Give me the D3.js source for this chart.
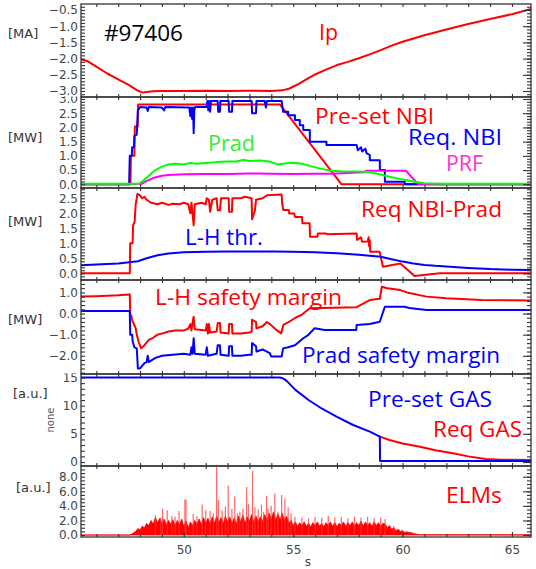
<!DOCTYPE html>
<html><head><meta charset="utf-8">
<script src="https://cdn.jsdelivr.net/npm/d3@7"></script>
<style>body{margin:0;background:#fff}</style>
</head><body>
<svg id="c" width="536" height="569"></svg>
<script>
// ---------------- DATA ----------------
const timeRange = [45.3, 65.87];
const xTickMajor = [50, 55, 60, 65];

const ipData = [[45.3,-2.02],[45.6,-2.08],[46.0,-2.25],[46.5,-2.46],[47.0,-2.64],[47.5,-2.82],[47.85,-2.97],[48.1,-3.05],[48.3,-3.03],[48.6,-3.01],[49,-3.0],[50,-3.0],[51,-2.99],[52,-3.0],[53,-2.99],[54,-3.0],[54.5,-2.98],[54.8,-2.93],[55.2,-2.8],[55.6,-2.64],[56.0,-2.49],[56.5,-2.34],[57.0,-2.2],[57.5,-2.1],[58.0,-1.99],[58.5,-1.87],[59.0,-1.74],[59.5,-1.6],[60.0,-1.48],[61.0,-1.28],[62.0,-1.1],[63.0,-0.93],[64.0,-0.78],[65.0,-0.63],[65.87,-0.47]];

const presetNbi = [[45.3,0],[47.56,0],[47.58,1.0],[47.74,1.0],[47.76,2.03],[47.89,2.03],[47.91,2.81],[54.39,2.81],[57.21,0],[65.87,0]];
const reqNbi = [[45.3,0],[47.5,0],[47.53,1.0],[47.62,1.0],[47.64,1.3],[47.72,1.3],[47.74,1.7],[47.85,1.75],[47.9,2.6],[48.0,2.72],[48.3,2.7],[48.35,2.58],[48.4,2.72],[49.0,2.7],[49.1,2.6],[49.15,2.72],[50.25,2.7],[50.3,2.4],[50.33,2.7],[50.38,2.3],[50.42,2.7],[50.45,1.8],[50.48,2.6],[50.52,2.72],[51.05,2.72],[51.08,2.93],[51.12,2.6],[51.16,2.93],[51.2,2.55],[51.24,2.93],[51.55,2.93],[51.57,2.55],[51.65,2.55],[51.67,2.93],[52.05,2.93],[52.07,2.55],[52.2,2.55],[52.22,2.93],[53.1,2.93],[53.12,2.5],[53.3,2.5],[53.32,2.93],[53.7,2.93],[53.75,2.7],[53.8,2.93],[54.47,2.93],[54.54,2.55],[54.77,2.55],[54.77,2.43],[55.08,2.43],[55.08,2.26],[55.3,2.26],[55.3,2.08],[55.46,2.08],[55.46,1.91],[55.76,1.91],[55.76,1.5],[56.52,1.5],[56.52,1.38],[57.9,1.38],[57.95,1.2],[58.1,1.3],[58.15,1.15],[58.3,1.25],[58.35,1.1],[58.5,1.03],[58.5,0.85],[58.96,0.85],[58.96,0.5],[59.19,0.5],[59.19,0.09],[60.1,0.09],[60.1,0.0],[65.87,0]];
const pradData = [[45.3,0.02],[47.95,0.02],[48.1,0.1],[48.4,0.3],[48.7,0.5],[49.0,0.62],[49.3,0.7],[49.6,0.72],[50.0,0.7],[50.3,0.75],[50.6,0.72],[51.0,0.75],[51.5,0.78],[52.0,0.8],[52.4,0.8],[52.7,0.86],[53.0,0.82],[53.5,0.84],[53.9,0.8],[54.3,0.7],[54.7,0.74],[55.0,0.76],[55.4,0.72],[55.8,0.64],[56.2,0.56],[56.7,0.48],[57.2,0.46],[58.0,0.45],[58.5,0.43],[58.9,0.36],[59.3,0.28],[59.8,0.2],[60.2,0.14],[60.6,0.08],[61.0,0.04],[62,0.02],[65.87,0.02]];
const prfData = [[45.3,0.01],[48.05,0.01],[48.3,0.12],[48.6,0.22],[49.0,0.3],[49.3,0.33],[50.0,0.35],[51,0.36],[52,0.36],[53,0.38],[54,0.37],[55,0.36],[56,0.37],[56.7,0.37],[57.5,0.4],[58.2,0.42],[58.35,0.48],[60.15,0.48],[60.7,0.01],[65.87,0.01]];

const reqNbiPrad = [[45.3,0],[47.53,0],[47.55,1.0],[47.66,1.0],[47.68,1.6],[47.75,1.7],[47.8,2.3],[47.88,2.65],[48.0,2.6],[48.1,2.5],[48.2,2.55],[48.3,2.45],[48.5,2.35],[48.8,2.3],[49.0,2.35],[49.3,2.28],[49.5,2.32],[49.8,2.3],[50.0,2.35],[50.2,2.3],[50.3,2.0],[50.35,2.35],[50.45,1.6],[50.5,2.3],[50.8,2.35],[51.0,2.3],[51.05,2.5],[51.15,2.45],[51.2,2.05],[51.3,2.45],[51.5,2.5],[51.55,2.1],[51.65,2.1],[51.7,2.5],[52.05,2.5],[52.07,2.05],[52.2,2.05],[52.22,2.5],[52.6,2.5],[52.8,2.55],[53.1,2.5],[53.12,1.8],[53.25,2.1],[53.3,2.45],[53.6,2.5],[53.8,2.6],[54.47,2.63],[54.5,2.3],[54.55,2.11],[54.8,2.11],[54.82,1.99],[55.05,1.99],[55.08,1.88],[55.4,1.88],[55.42,1.67],[55.75,1.67],[55.77,1.22],[56.1,1.22],[56.13,1.33],[56.5,1.33],[56.55,1.3],[57.9,1.33],[57.92,1.11],[58.1,1.2],[58.15,1.05],[58.4,1.06],[58.45,1.2],[58.47,0.9],[58.5,1.1],[58.52,0.72],[58.95,0.72],[59.1,0.22],[59.9,0.33],[60.55,-0.09],[61.7,0.0],[65.87,0.0]];
const lhThr = [[45.3,0.27],[46,0.29],[47,0.33],[47.5,0.37],[47.9,0.4],[48.3,0.5],[48.8,0.6],[49.3,0.66],[50,0.7],[51,0.72],[52,0.73],[53,0.73],[54,0.73],[55,0.72],[56,0.7],[57,0.67],[58,0.62],[59,0.55],[59.5,0.47],[60,0.39],[60.5,0.33],[61,0.28],[61.5,0.25],[62,0.23],[63,0.18],[64,0.14],[65,0.12],[65.87,0.11]];

const lhMargin = [[45.3,0.8],[46,0.82],[47,0.86],[47.5,0.9],[47.53,0.9],[47.55,-0.07],[47.6,-0.1],[47.65,-0.35],[47.72,-0.5],[47.8,-0.7],[47.85,-1.0],[47.95,-1.4],[48.05,-1.65],[48.2,-1.5],[48.4,-1.25],[48.6,-1.15],[48.8,-1.0],[49.0,-0.95],[49.3,-0.85],[49.6,-0.8],[50.0,-0.8],[50.2,-0.72],[50.3,-0.5],[50.35,-0.8],[50.42,-0.3],[50.45,-0.15],[50.5,-0.75],[51.0,-0.8],[51.05,-0.5],[51.1,-0.95],[51.15,-0.5],[51.2,-0.9],[51.5,-0.85],[51.55,-0.45],[51.65,-0.45],[51.68,-0.9],[52.05,-0.95],[52.07,-0.5],[52.2,-0.5],[52.22,-0.95],[52.6,-0.95],[53.0,-0.9],[53.1,-0.85],[53.12,-0.3],[53.3,-0.4],[53.32,-0.7],[53.6,-0.6],[53.8,-0.4],[53.93,-0.5],[54.2,-0.75],[54.45,-0.94],[54.55,-0.54],[54.8,-0.4],[55.1,-0.2],[55.4,-0.05],[55.76,0.25],[57.9,0.3],[58.5,0.64],[58.96,0.7],[59.05,1.27],[59.3,1.2],[59.9,1.11],[60.2,1.0],[61.1,0.8],[62,0.72],[63.6,0.64],[65.87,0.62]];
const pradMargin = [[45.3,0.12],[47.5,0.12],[47.53,0.1],[47.55,-1.0],[47.64,-1.0],[47.66,-1.3],[47.74,-1.6],[47.85,-1.65],[47.9,-2.6],[48.0,-2.6],[48.2,-2.35],[48.3,-2.3],[48.35,-2.0],[48.4,-2.3],[48.7,-2.1],[49.0,-2.0],[49.5,-1.95],[50.0,-1.9],[50.3,-1.95],[50.35,-1.6],[50.4,-1.9],[50.45,-1.17],[50.5,-1.9],[51.0,-1.95],[51.05,-1.6],[51.1,-2.0],[51.5,-1.9],[51.55,-1.5],[51.65,-1.5],[51.68,-1.95],[52.05,-2.0],[52.07,-1.55],[52.2,-1.55],[52.22,-2.0],[52.6,-2.0],[53.0,-1.95],[53.1,-1.95],[53.12,-1.4],[53.3,-1.55],[53.32,-1.8],[53.6,-1.7],[53.93,-1.88],[54.0,-2.04],[54.47,-2.04],[54.54,-1.65],[54.77,-1.6],[55.08,-1.5],[55.46,-1.17],[55.68,-1.02],[55.98,-0.7],[56.44,-0.78],[57.88,-0.78],[57.9,-0.54],[58.5,-0.5],[58.96,-0.39],[59.19,0.32],[60.1,0.32],[60.3,0.26],[61.1,0.17],[65.87,0.17]];

const presetGas = [[45.3,15],[54.4,15],[54.55,14.8],[54.7,14.4],[55.1,12.8],[55.7,11.0],[56.3,9.5],[56.98,8.05],[57.74,6.57],[58.5,5.38],[58.96,4.5],[58.97,0.18],[65.87,0.18]];
const reqGas = [[58.9,4.6],[59.4,3.9],[60.0,3.3],[60.8,2.7],[61.5,2.1],[62.3,1.54],[63.0,1.0],[63.8,0.55],[64.5,0.42],[65.87,0.36]];

const elmStart = 47.5, elmStep = 0.1;
const elmBase = [0,0.1,0.3,0.5,0.9,0.7,1.2,1.0,1.6,1.3,2.0,
 1.5,2.4,1.7,2.3,1.5,2.2,1.4,2.0,1.5,2.1,
 1.3,2.0,1.4,2.2,1.2,1.9,1.0,1.8,1.3,2.0,
 1.5,2.2,1.4,2.4,1.6,2.3,1.5,2.5,1.6,2.6,
 1.7,2.4,1.5,2.6,1.8,2.5,1.6,2.3,1.5,2.6,
 1.8,2.7,1.6,2.5,1.9,2.8,1.7,2.6,1.8,2.5,
 1.9,2.8,2.0,3.0,2.2,3.2,2.0,2.9,2.1,3.0,
 2.0,2.6,1.6,2.0,1.3,1.8,1.2,1.7,1.3,1.8,
 1.2,1.6,1.1,1.7,1.3,1.8,1.2,1.6,1.1,1.7,
 1.3,1.8,1.2,1.7,1.1,1.6,1.3,1.8,1.2,1.7,
 1.3,1.8,1.2,1.7,1.3,1.9,1.2,1.8,1.3,1.7,
 1.2,1.8,1.3,1.7,1.2,1.6,1.5,1.0,1.3,0.8,
 1.0,0.6,0.8,0.5,0.6,0.35,0.45,0.3,0.35,0.2,
 0.15,0.08,0.05];
const elmSpikes = [[48.7,2.7],[48.95,2.4],[49.03,3.6],[49.24,3.4],[49.45,2.6],[49.6,2.5],[49.78,3.3],[50.05,4.9],[50.1,4.8],[50.43,2.9],[50.6,2.6],[50.84,4.2],[51.0,3.4],[51.2,3.3],[51.35,3.0],[51.5,9.3],[51.58,4.8],[51.75,3.4],[51.9,3.9],[52.03,6.8],[52.2,3.6],[52.33,5.3],[52.45,3.0],[52.56,3.2],[52.7,3.6],[52.87,6.6],[52.95,4.3],[53.14,8.8],[53.25,3.8],[53.4,3.5],[53.55,4.2],[53.65,3.2],[53.78,5.4],[53.85,3.6],[53.99,4.0],[54.16,5.7],[54.3,3.2],[54.47,5.5],[54.62,5.0],[54.77,3.8],[54.9,3.0],[55.08,2.5],[55.4,2.4],[55.7,2.3],[56.0,2.5],[56.3,2.4],[56.6,2.6],[56.9,2.4],[57.2,2.5],[57.5,2.3],[57.8,2.5],[58.1,2.4],[58.4,2.5],[58.7,2.3],[59.0,2.4],[59.2,2.2],[59.6,1.2],[60.0,0.7],[60.4,0.4]];

const ticks1 = [-3.0,-2.5,-2.0,-1.5,-1.0,-0.5];
const ticks2 = [0,0.5,1.0,1.5,2.0,2.5,3.0];
const ticks3 = [0,0.5,1.0,1.5,2.0,2.5];
const ticks4 = [-2.0,-1.0,0.0,1.0];
const ticks5 = [0,5,10,15];
const ticks6 = [0,2,4,6,8];

const annText = ["#97406","Ip","Pre-set NBI","Req. NBI","PRF","Prad","Req NBI-Prad","L-H thr.","L-H safety margin","Prad safety margin","Pre-set GAS","Req GAS","ELMs"];

// ---------------- LAYOUT ----------------
const svg = d3.select("#c");
const X0 = 81, X1 = 531;
const x = d3.scaleLinear().domain(timeRange).range([X0, X1]);
const axisColor = "#333";
const tickFont = "DejaVu Sans, Verdana, sans-serif";
const annFont = "'Open Sans', Lato, sans-serif";

const panels = [
  {top:4, bottom:97, domain:[-3.185,-0.315], major:ticks1, minor:0.1, fmt:d3.format(".1f"), unit:"[MA]", ux:8, uy:38},
  {top:97, bottom:188, domain:[-0.13,3.07], major:ticks2, minor:0.1, fmt:d3.format(".1f"), unit:"[MW]", ux:8, uy:142},
  {top:188, bottom:280, domain:[-0.223,2.843], major:ticks3, minor:0.1, fmt:d3.format(".1f"), unit:"[MW]", ux:8, uy:226},
  {top:280, bottom:374, domain:[-2.863,1.587], major:ticks4, minor:0.2, fmt:d3.format(".1f"), unit:"[MW]", ux:8, uy:324},
  {top:374, bottom:466, domain:[-0.71,15.62], major:ticks5, minor:1, fmt:d3.format("d"), unit:"[a.u.]", ux:13, uy:398},
  {top:466, bottom:537, domain:[-0.27,9.47], major:ticks6, minor:0.5, fmt:d3.format(".1f"), unit:"[a.u.]", ux:16, uy:492}
];

function minorVals(dom, step){
  const lo = Math.ceil(dom[0]/step - 1e-6), hi = Math.floor(dom[1]/step + 1e-6);
  return d3.range(lo, hi+1).map(i => +(i*step).toFixed(4));
}
const xMinor = d3.range(46, 66);

panels.forEach((p, i) => {
  p.y = d3.scaleLinear().domain(p.domain).range([p.bottom, p.top]);
  const clipId = "clip"+i;
  svg.append("clipPath").attr("id", clipId).append("rect")
    .attr("x", X0).attr("y", p.top).attr("width", X1-X0).attr("height", p.bottom-p.top);
  svg.append("clipPath").attr("id", "lab"+i).append("rect")
    .attr("x", 0).attr("y", p.top-0.5).attr("width", X0).attr("height", p.bottom-p.top+6);
  p.plot = svg.append("g").attr("clip-path", `url(#${clipId})`);
});
panels.forEach(p => { p.axes = svg.append("g"); });

function styleAxis(sel, labels){
  sel.select(".domain").remove();
  sel.selectAll(".tick line").attr("stroke", axisColor).attr("stroke-width", 1.1);
  sel.selectAll(".tick text").attr("fill", "#444").style("font-family", tickFont).style("font-size", "12px");
  if(!labels) sel.selectAll(".tick text").remove();
}

const lineGen = (p) => d3.line().x(d => x(d[0])).y(d => p.y(d[1]));

function drawLine(p, data, color, w){
  p.plot.append("path").datum(data).attr("d", lineGen(p))
    .attr("fill","none").attr("stroke", color).attr("stroke-width", w||2)
    .attr("stroke-linejoin","round");
}

// Series
drawLine(panels[0], ipData, "#ff0000");
drawLine(panels[1], presetNbi, "#ff0000");
drawLine(panels[1], reqNbi, "#0000ff");
drawLine(panels[1], prfData, "#ff00ff");
drawLine(panels[1], pradData, "#00ff00");
drawLine(panels[2], reqNbiPrad, "#ff0000");
drawLine(panels[2], lhThr, "#0000ff");
drawLine(panels[3], lhMargin, "#ff0000");
drawLine(panels[3], pradMargin, "#0000ff");
drawLine(panels[4], reqGas, "#ff0000");
drawLine(panels[4], presetGas, "#0000ff");

// ELMs
(function(){
  const p = panels[5];
  const pts = [[timeRange[0],0.0],[elmStart-0.05,0.0]]
    .concat(elmBase.map((v,k)=>[elmStart + k*elmStep, v]))
    .concat([[61.0,0.03],[timeRange[1],0.03]]);
  p.plot.append("path").datum(pts)
    .attr("d", d3.area().x(d=>x(d[0])).y0(p.y(0)).y1(d=>p.y(d[1])))
    .attr("fill","#ff0000").attr("stroke","#ff0000").attr("stroke-width",0.8);
  p.plot.selectAll(".spk").data(elmSpikes).join("line")
    .attr("x1", d=>x(d[0])).attr("x2", d=>x(d[0]))
    .attr("y1", p.y(0)).attr("y2", d=>p.y(d[1]))
    .attr("stroke","#ff3333").attr("stroke-opacity",0.75).attr("stroke-width",1.2);
})();

// Axes & frames
panels.forEach((p, i) => {
  const g = p.axes;
  g.append("rect").attr("x",X0).attr("y",p.top).attr("width",X1-X0).attr("height",p.bottom-p.top)
    .attr("fill","none").attr("stroke",axisColor).attr("stroke-width",1.3);
  const mn = minorVals(p.domain, p.minor);
  g.append("g").attr("transform",`translate(${X0},0)`)
    .call(d3.axisLeft(p.y).tickValues(mn).tickSize(-4).tickFormat("")).call(s=>styleAxis(s,false));
  g.append("g").attr("transform",`translate(${X1},0)`)
    .call(d3.axisRight(p.y).tickValues(mn).tickSize(-4).tickFormat("")).call(s=>styleAxis(s,false));
  g.append("g").attr("clip-path", `url(#lab${i})`).append("g").attr("transform",`translate(${X0},0)`)
    .call(d3.axisLeft(p.y).tickValues(p.major).tickSize(-8).tickPadding(3).tickFormat(p.fmt)).call(s=>styleAxis(s,true));
  g.append("g").attr("transform",`translate(${X1},0)`)
    .call(d3.axisRight(p.y).tickValues(p.major).tickSize(-8).tickFormat("")).call(s=>styleAxis(s,false));
  g.append("g").attr("transform",`translate(0,${p.bottom})`)
    .call(d3.axisBottom(x).tickValues(xMinor).tickSize(-3).tickFormat("")).call(s=>styleAxis(s,false));
  g.append("g").attr("transform",`translate(0,${p.top})`)
    .call(d3.axisTop(x).tickValues(xMinor).tickSize(-3).tickFormat("")).call(s=>styleAxis(s,false));
  if(i === panels.length-1){
    g.append("g").attr("transform",`translate(0,${p.bottom})`)
      .call(d3.axisBottom(x).tickValues(xTickMajor).tickSize(-5).tickPadding(8).tickFormat(d3.format("d"))).call(s=>styleAxis(s,true));
  }
  g.append("text").attr("x", p.ux).attr("y", p.uy).text(p.unit)
    .attr("fill","#333").style("font-family",tickFont).style("font-size","13px");
});

// axis titles
svg.append("text").attr("transform","translate(54,420) rotate(-90)").attr("text-anchor","middle")
  .text("none").attr("fill","#555").style("font-family",tickFont).style("font-size","10px");
svg.append("text").attr("x",308).attr("y",566).attr("text-anchor","middle")
  .text("s").attr("fill","#444").style("font-family",tickFont).style("font-size","12px");

// annotations
const annColor = ["#000000","#ff0000","#ff0000","#0000ff","#ff33cc","#33ee33","#ff0000","#0000ff","#ff0000","#0000ff","#0000ff","#ff0000","#ff0000"];
const annPos = [[104,41],[319,40],[315,124],[408,145],[446,171],[208,151],[361,217],[185,245],[155,305],[302,363],[368,407],[433,437],[446,503]];
const annWidth = [79,19,119,94,37,47,141,78,187,198,124,89,56];
annText.forEach((t,k)=>{
  svg.append("text").attr("x",annPos[k][0]).attr("y",annPos[k][1]).text(t)
    .attr("textLength", annWidth[k]).attr("lengthAdjust","spacingAndGlyphs")
    .attr("fill",annColor[k]).style("font-family",annFont).style("font-size","21px");
});
</script>
</body></html>
